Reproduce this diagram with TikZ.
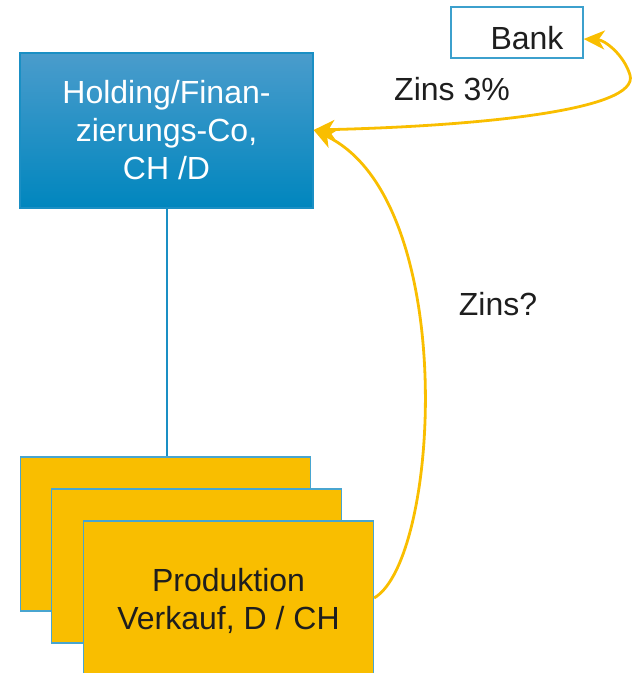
\documentclass[tikz,border=0pt]{standalone}
\usepackage{fontspec}
\setmainfont{Liberation Sans}
\usetikzlibrary{arrows.meta,shadings}
\definecolor{hblue}{HTML}{0086BE}
\definecolor{htop}{HTML}{4A9CCC}
\definecolor{hborder}{HTML}{1A8FC4}
\definecolor{pyellow}{HTML}{F9BE00}
\definecolor{ptext}{HTML}{1E1E1E}
\tikzset{
  x=1pt,y=-1pt,
  holdbox/.style={draw=hborder,line width=1.2pt,top color=htop,bottom color=hblue,minimum width=293pt,minimum height=155pt,text=white,align=center,font=\fontsize{32}{38}\selectfont,inner sep=0pt},
  bankbox/.style={draw=hborder!85,line width=1.2pt,fill=white,minimum width=132pt,minimum height=51pt,inner sep=0pt},
  prodbox/.style={draw=hborder!80,line width=1.2pt,fill=pyellow,minimum width=290pt,minimum height=154pt,inner sep=0pt,text=ptext,align=center,font=\fontsize{32}{38}\selectfont},
  lbl/.style={text=ptext,font=\fontsize{32}{38}\selectfont,inner sep=0pt},
  flow/.style={draw=pyellow,line width=2.8pt},
  tiphead/.tip={Stealth[length=21pt,width=19pt,inset=6pt]}
}
\begin{document}
\begin{tikzpicture}
\useasboundingbox (0,0) rectangle (632,673);
\node[holdbox] (hold) at (166.5,130.5) {Holding/Finan-\\zierungs-Co,\\CH /D};
\node[bankbox] (bank) at (517,32.5) {};
\node[lbl,anchor=base] (banktext) at (527,49) {Bank};
\node[prodbox] (p1) at (165.5,534) {};
\node[prodbox] (p2) at (196.5,566) {};
\node[prodbox,minimum height=160pt] (p3) at (228.5,601) {Produktion\\Verkauf, D / CH};
\node[lbl,anchor=base] (z3) at (452,100) {Zins 3\%};
\node[lbl,anchor=base] (zq) at (498,315) {Zins?};
\draw[hborder,line width=2pt] (hold.south) -- (hold.south |- p1.north);
\draw[flow,-tiphead] (p3.east |- 0,598) .. controls (440,560) and (460,200) .. (hold.east |- 0,130);
\draw[flow,tiphead-tiphead]
  (hold.east |- 0,130) .. controls (480,126) and (640,110) .. (630,75) .. controls (624,55) and (605,40) .. (bank.east |- 0,39);
\end{tikzpicture}
\end{document}
